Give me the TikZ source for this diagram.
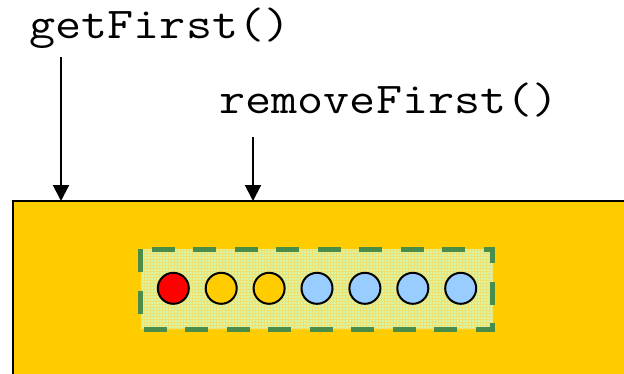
\documentclass[tikz,border=0pt]{standalone}
\usepackage{graphicx}
\usetikzlibrary{arrows.meta,patterns}
\definecolor{listgold}{HTML}{FFCC00}
\definecolor{boxgreen}{HTML}{4A8C4A}
\definecolor{boxfill}{HTML}{D6F5A6}
\definecolor{gridlines}{HTML}{F0E070}
\definecolor{ballblue}{HTML}{99CCFF}
% wide typewriter face for the method names
\newcommand{\methodname}[1]{\scalebox{1.15}[1]{\ttfamily\fontsize{44}{44}\selectfont #1}}
\begin{document}
\begin{tikzpicture}[x=1pt,y=-1pt,
  label/.style={inner sep=0pt, anchor=base west},
  pointer/.style={line width=2pt, -{Triangle[width=16pt,length=16pt]}, shorten >=-1pt},
  ball/.style={circle, draw=black, line width=2pt, minimum size=31pt, inner sep=0pt},
  window/.style={draw=boxgreen, line width=5pt, dash pattern=on 23pt off 18.5pt}
]
\useasboundingbox (0,0) rectangle (624,373);
\clip (0,0) rectangle (624,373);

% the list body, running past the right and bottom edges
\draw[line width=2pt, fill=listgold] (12.5,200.5) rectangle (640,390);

% method labels
\node[label] (getfirst) at (29.5,38) {\methodname{getFirst()}};
\node[label] (removefirst) at (219.5,113.5) {\methodname{removeFirst()}};

% arrow endpoints on the top of the list
\coordinate (gf-from) at (61,57);
\coordinate (gf-to) at (61,200);
\coordinate (rf-from) at (253,137);
\coordinate (rf-to) at (253,200);
\draw[pointer] (gf-from) -- (gf-to);
\draw[pointer] (rf-from) -- (rf-to);

% dashed window around the elements
\fill[boxfill] (140.7,249) rectangle (492.7,329);
\fill[pattern=grid, pattern color=gridlines] (140.7,249) rectangle (492.7,329);
\draw[window] (140.7,249) rectangle (492.7,329);

% elements
\node[ball, fill=red] (e1) at (173.3,288.3) {};
\node[ball, fill=listgold] (e2) at (221.2,288.3) {};
\node[ball, fill=listgold] (e3) at (269.1,288.3) {};
\node[ball, fill=ballblue] (e4) at (317.0,288.3) {};
\node[ball, fill=ballblue] (e5) at (364.9,288.3) {};
\node[ball, fill=ballblue] (e6) at (412.8,288.3) {};
\node[ball, fill=ballblue] (e7) at (460.7,288.3) {};
\end{tikzpicture}
\end{document}
